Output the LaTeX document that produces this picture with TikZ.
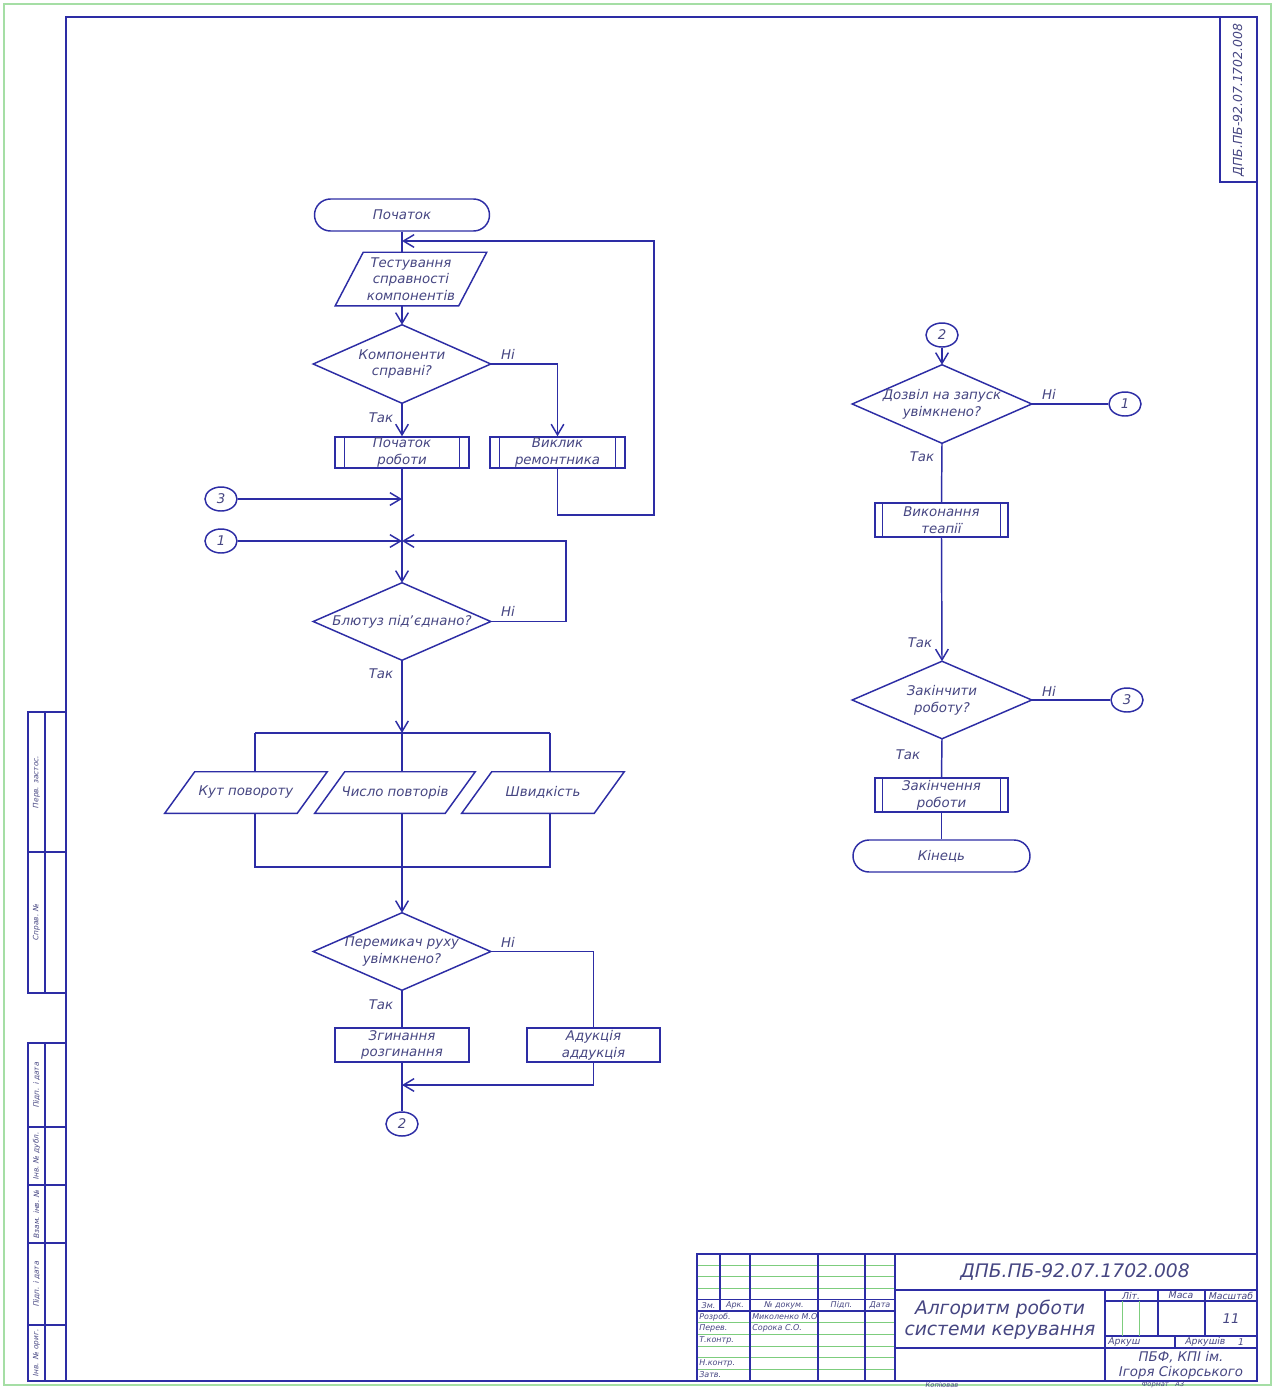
\documentclass[tikz,border=0pt]{standalone}
\usepackage{fontspec}
\setmainfont{DejaVu Sans}
\usetikzlibrary{arrows.meta,shapes.geometric}
\definecolor{lc}{RGB}{45,45,165}
\definecolor{tx}{RGB}{70,70,130}
\definecolor{gfr}{RGB}{165,222,165}
\definecolor{gtb}{RGB}{125,205,125}
\newcommand\drawdiam[1]{\draw[ln] (#1.north) -- (#1.east) -- (#1.south) -- (#1.west) -- cycle;}
\newcommand\drawpara[2]{\draw[ln] (#1.south west) -- ([xshift=#2]#1.north west) -- (#1.north east) -- ([xshift=-#2]#1.south east) -- cycle;}
\newcommand\drawpredef[2]{\draw[ln] ([xshift=#2]#1.north west) -- ([xshift=#2]#1.south west) ([xshift=-#2]#1.north east) -- ([xshift=-#2]#1.south east);}
\begin{document}
\begin{tikzpicture}[x=0.75pt,y=-0.75pt,
  every node/.style={text=tx, inner sep=0pt, align=center},
  fc/.style={font=\itshape\fontsize{10}{12.5}\selectfont},
  sz/.style 2 args={minimum width=#1*0.75pt, minimum height=#2*0.75pt},
  ln/.style={draw=lc, line width=1.1pt},
  thinb/.style={draw=lc, line width=1pt},
  thing/.style={draw=gtb, line width=0.6pt},
  arr/.style={ln, -{Straight Barb[length=8pt,width=9.5pt]}},
  term/.style={fc, ln, rectangle, rounded corners=12pt},
  conn/.style={fc, ln, ellipse, minimum width=24pt, minimum height=18pt},
  pbox/.style={fc, ln, rectangle},
  lab/.style={fc},
  tbs/.style={font=\itshape\fontsize{6}{7}\selectfont},
  tbx/.style={font=\itshape\fontsize{5}{5.5}\selectfont},
  tbm/.style={font=\itshape\fontsize{7}{8}\selectfont},
  tbl/.style={font=\itshape\fontsize{14}{16}\selectfont},
  tbn/.style={font=\itshape\fontsize{10}{11}\selectfont},
  strip/.style={font=\itshape\fontsize{5.5}{6}\selectfont, rotate=90}
]
\useasboundingbox (0,0) rectangle (1276,1389);
\fill[white] (0,0) rectangle (1276,1389);
% ---------- frames ----------
\draw[draw=gfr, line width=1.2pt] (4,4) rectangle (1271,1385);
\draw[ln] (66,17) rectangle (1257,1381);
% top right stamp
\draw[ln] (1220,17) rectangle (1257,182);
\node[font=\itshape\fontsize{9.3}{10}\selectfont, rotate=90] (stamp) at (1238.5,100) {ДПБ.ПБ-92.07.1702.008};
% left strip
\draw[thinb] (28,712) rectangle (66,993);
\draw[thinb] (45,712) -- (45,993);
\draw[thinb] (28,852) -- (66,852);
\draw[thinb] (28,1043) rectangle (66,1381);
\draw[thinb] (45,1043) -- (45,1381);
\foreach \yy in {1127,1185,1243,1325} \draw[thinb] (28,\yy) -- (66,\yy);
\node[strip] (s1) at (36.5,782) {Перв. застос.};
\node[strip] (s2) at (36.5,922) {Справ. №};
\node[strip] (s3) at (36.5,1085) {Підп. і дата};
\node[strip] (s4) at (36.5,1156) {Інв. № дубл.};
\node[strip] (s5) at (36.5,1214) {Взам. інв. №};
\node[strip] (s6) at (36.5,1284) {Підп. і дата};
\node[strip] (s7) at (36.5,1353) {Інв. № ориг.};
% ---------- title block ----------
\foreach \yy in {1265.4,1276.8,1288.1} \draw[thing] (697,\yy) -- (895,\yy);
\foreach \yy in {1322.7,1334.3,1346,1357.7,1369.3} \draw[thing] (697,\yy) -- (895,\yy);
\draw[thinb] (697,1299.5) -- (895,1299.5);
\draw[thinb] (697,1311) -- (895,1311);
\draw[ln] (697,1254) rectangle (1257,1381);
\draw[thinb] (720,1254) -- (720,1311);
\foreach \xx in {750,818,865} \draw[thinb] (\xx,1254) -- (\xx,1381);
\draw[ln] (895,1254) -- (895,1381);
\draw[ln] (895,1290) -- (1257,1290);
\draw[ln] (895,1348) -- (1257,1348);
\draw[ln] (1105,1290) -- (1105,1381);
\draw[thinb] (1105,1301) -- (1257,1301);
\draw[thinb] (1105,1336) -- (1257,1336);
\draw[thinb] (1158,1290) -- (1158,1336);
\draw[thinb] (1205,1290) -- (1205,1336);
\draw[thinb] (1175,1336) -- (1175,1348);
\draw[thing] (1122,1301) -- (1122,1336);
\draw[thing] (1139,1301) -- (1139,1336);
\node[tbs] (h1) at (708.5,1305.3) {Зм.};
\node[tbs] (h2) at (735,1305.3) {Арк.};
\node[tbs] (h3) at (784,1305.3) {№ докум.};
\node[tbs] (h4) at (841.5,1305.3) {Підп.};
\node[tbs] (h5) at (880,1305.3) {Дата};
\node[tbs, anchor=west] (r1) at (699,1317) {Розроб.};
\node[tbs, anchor=west] (r1n) at (752,1317) {Миколенко М.О.};
\node[tbs, anchor=west] (r2) at (699,1328.5) {Перев.};
\node[tbs, anchor=west] (r2n) at (752,1328.5) {Сорока С.О.};
\node[tbs, anchor=west] (r3) at (699,1340) {Т.контр.};
\node[tbs, anchor=west] (r5) at (699,1363.5) {Н.контр.};
\node[tbs, anchor=west] (r6) at (699,1375) {Затв.};
\node[tbl] (code) at (1075,1272) {ДПБ.ПБ-92.07.1702.008};
\node[tbl] (ttl) at (1000,1320) {Алгоритм роботи\\системи керування};
\node[tbm] (lit) at (1131,1295.5) {Літ.};
\node[tbm] (mas) at (1181,1295.5) {Маса};
\node[tbm] (msh) at (1231,1295.5) {Масштаб};
\node[tbn] (sc) at (1231,1318.5) {11};
\node[tbm, anchor=west] (ark) at (1108,1342) {Аркуш};
\node[tbm, anchor=west] (arks) at (1185,1342) {Аркушів};
\node[tbm] (arkn) at (1241,1342) {1};
\node[tbn] (org) at (1181,1365) {ПБФ, КПІ ім.\\Ігоря Сікорського};
\node[tbx] (kop) at (942,1385.2) {Копіював};
\node[tbx] (frm) at (1163,1385.2) {Формат\quad А3};
% ---------- left flowchart ----------
\node[term, sz={175}{32}] (start) at (402,215) {Початок};
\node[fc, sz={151}{53}] (test) at (411,279) {Тестування\\справності\\компонентів};
\drawpara{test}{21pt}
\node[fc, sz={177}{78}] (d1) at (402,364) {Компоненти\\справні?};
\drawdiam{d1}
\node[pbox, sz={134}{31}] (pr1) at (402,452.5) {Початок\\роботи};
\drawpredef{pr1}{7.5pt}
\node[pbox, sz={135}{31}] (rem) at (557.5,452.5) {Виклик\\ремонтника};
\drawpredef{rem}{7.5pt}
\node[conn] (c3a) at (221,499) {3};
\node[conn] (c1a) at (221,541) {1};
\node[fc, sz={177}{77}] (d2) at (402,621.5) {Блютуз підʼєднано?};
\drawdiam{d2}
\node[fc, sz={162}{41}] (k1) at (246,792.5) {Кут повороту};
\drawpara{k1}{22.5pt}
\node[fc, sz={160}{41}] (k2) at (395,792.5) {Число повторів};
\drawpara{k2}{22.5pt}
\node[fc, sz={162}{41}] (k3) at (543,792.5) {Швидкість};
\drawpara{k3}{22.5pt}
\node[fc, sz={177}{77}] (d3) at (402,951.5) {Перемикач руху\\увімкнено?};
\drawdiam{d3}
\node[pbox, sz={134}{34}] (z1) at (402,1045) {Згинання\\розгинання};
\node[pbox, sz={133}{34}] (z2) at (593.5,1045) {Адукція\\аддукція};
\node[conn] (c2a) at (402,1124) {2};
% labels
\node[lab] (n1) at (508,354) {Ні};
\node[lab] (t1) at (381,418) {Так};
\node[lab] (n2) at (508,611) {Ні};
\node[lab] (t2) at (381,674) {Так};
\node[lab] (n3) at (508,942) {Ні};
\node[lab] (t3) at (381,1005) {Так};
% coordinates
\coordinate (fbJ) at (402,241);
\coordinate (fbR) at (654,515);
\coordinate (lp) at (566,541);
\coordinate (b1) at (402,733);
\coordinate (bL) at (255,733);
\coordinate (bR) at (550,733);
\coordinate (b2) at (402,867);
\coordinate (bL2) at (255,867);
\coordinate (bR2) at (550,867);
\coordinate (j3) at (402,1085);
% connectors
\draw[ln] (start.south) -- (start.south |- test.north);
\draw[arr] (rem.south) |- (fbR) |- (fbJ);
\draw[arr] (test.south -| d1.north) -- (d1.north);
\draw[arr] (d1.south) -- (pr1.north);
\draw[arr] (d1.east) -| (rem.north);
\draw[arr] (pr1.south) -- (d2.north);
\draw[arr] (c3a.east) -- (c3a.east -| pr1.south);
\draw[arr] (c1a.east) -- (c1a.east -| pr1.south);
\draw[arr] (d2.east) -| (lp) -- (c1a.east -| pr1.south);
\draw[arr] (d2.south) -- (b1);
\draw[ln] (bL) -- (bR);
\draw[ln] (bL) -- (bL |- k1.north);
\draw[ln] (b1) -- (b1 |- k2.north);
\draw[ln] (bR) -- (bR |- k3.north);
\draw[ln] (bL |- k1.south) -- (bL2) -- (bR2) -- (bR |- k3.south);
\draw[ln] (b1 |- k2.south) -- (b2);
\draw[arr] (b2) -- (d3.north);
\draw[ln] (d3.south) -- (z1.north);
\draw[ln] (d3.east) -| (z2.north);
\draw[ln] (z1.south) -- (c2a.north);
\draw[arr] (z2.south) |- (j3);
% ---------- right flowchart ----------
\node[conn] (c2b) at (942,335) {2};
\node[fc, sz={179}{78}] (d4) at (942,404) {Дозвіл на запуск\\увімкнено?};
\drawdiam{d4}
\node[conn] (c1b) at (1125,404) {1};
\node[pbox, sz={133}{34}] (pr2) at (941.5,520) {Виконання\\теапії};
\drawpredef{pr2}{6pt}
\node[fc, sz={179}{77}] (d5) at (942,700) {Закінчити\\роботу?};
\drawdiam{d5}
\node[conn] (c3b) at (1127,700) {3};
\node[pbox, sz={133}{34}] (pr3) at (941.5,795) {Закінчення\\роботи};
\drawpredef{pr3}{6pt}
\node[term, sz={177}{32}] (fin) at (941.5,856) {Кінець};
\node[lab] (n4) at (1049,394) {Ні};
\node[lab] (t4) at (922,457) {Так};
\node[lab] (t5) at (920,643) {Так};
\node[lab] (n5) at (1049,691) {Ні};
\node[lab] (t6) at (908,755) {Так};
\draw[arr] (c2b.south) -- (d4.north);
\draw[ln] (d4.east) -- (c1b.west);
\draw[ln] (d4.south) -- (pr2.north);
\draw[arr] (pr2.south) -- (d5.north);
\draw[ln] (d5.east) -- (c3b.west);
\draw[ln] (d5.south) -- (pr3.north);
\draw[ln] (pr3.south) -- (fin.north);
\end{tikzpicture}
\end{document}
